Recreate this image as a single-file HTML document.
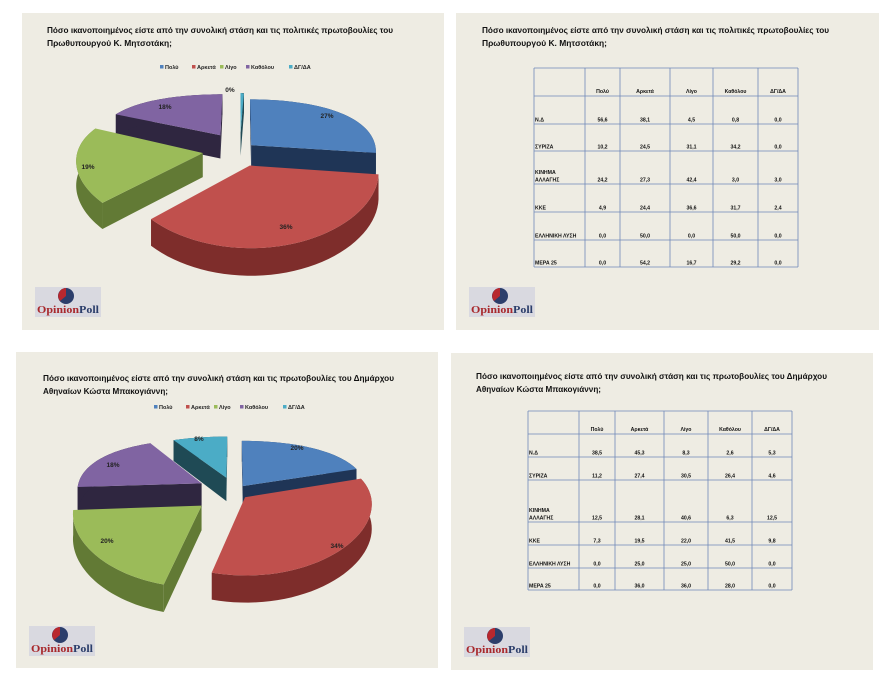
<!DOCTYPE html>
<html><head><meta charset="utf-8"><style>
html,body{margin:0;padding:0;background:#fff;}
svg{display:block;}
text{font-family:"Liberation Sans","DejaVu Sans",sans-serif;}
.t{font-size:8.5px;font-weight:bold;fill:#111;}
.lg{font-size:5.5px;font-weight:bold;fill:#222;}
.tb{font-size:5.2px;font-weight:bold;fill:#111;}
.pc{font-size:6.5px;font-weight:bold;fill:#222;}
</style></head><body>
<svg id="s" width="880" height="676" viewBox="0 0 880 676" xmlns="http://www.w3.org/2000/svg">
<rect x="22" y="13" width="422" height="317" fill="#eeece3"/>
<rect x="456" y="13" width="423" height="317" fill="#eeece3"/>
<rect x="16" y="352" width="422" height="316" fill="#eeece3"/>
<rect x="451" y="353" width="422" height="317" fill="#eeece3"/>

<text class="t" x="47" y="33" textLength="346" lengthAdjust="spacingAndGlyphs">Πόσο ικανοποιημένος είστε από την συνολική στάση και τις πολιτικές πρωτοβουλίες του</text>
<text class="t" x="47" y="46" textLength="125" lengthAdjust="spacingAndGlyphs">Πρωθυπουργού  Κ. Μητσοτάκη;</text>
<text class="t" x="482" y="33" textLength="347" lengthAdjust="spacingAndGlyphs">Πόσο ικανοποιημένος είστε από την συνολική στάση και τις πολιτικές πρωτοβουλίες του</text>
<text class="t" x="482" y="46" textLength="125" lengthAdjust="spacingAndGlyphs">Πρωθυπουργού  Κ. Μητσοτάκη;</text>
<text class="t" x="43" y="381" textLength="351" lengthAdjust="spacingAndGlyphs">Πόσο ικανοποιημένος είστε από την συνολική στάση και τις πρωτοβουλίες του Δημάρχου</text>
<text class="t" x="43" y="394" textLength="125" lengthAdjust="spacingAndGlyphs">Αθηναίων Κώστα Μπακογιάννη;</text>
<text class="t" x="476" y="379" textLength="351" lengthAdjust="spacingAndGlyphs">Πόσο ικανοποιημένος είστε από την συνολική στάση και τις πρωτοβουλίες του Δημάρχου</text>
<text class="t" x="476" y="392" textLength="125" lengthAdjust="spacingAndGlyphs">Αθηναίων Κώστα Μπακογιάννη;</text>

<g id="legs"></g>
<g id="pies"></g>
<g id="tabs"></g>
<g id="logos"></g>
</svg>
<script>
var NS="http://www.w3.org/2000/svg";
function el(par,tag,at,txt){var e=document.createElementNS(NS,tag);for(var k in at)e.setAttribute(k,at[k]);if(txt!=null)e.textContent=txt;par.appendChild(e);return e;}
var cols=["#4f81bd","#c0504d","#9bbb59","#8064a2","#4bacc6"];
var side=["#1f3556","#7e2d2b","#627a35","#2f2640","#1f4a55"];
function legend(x,y){var g=document.getElementById('legs');var names=["Πολύ","Αρκετά","Λίγο","Καθόλου","ΔΓ/ΔΑ"];var xs=[0,32,60,86,129];
for(var i=0;i<5;i++){el(g,'rect',{x:x+xs[i],y:y-4,width:3.5,height:3.5,fill:cols[i]});el(g,'text',{class:'lg',x:x+xs[i]+5,y:y},names[i]);}}
legend(160,69);legend(154,409);
function pie(P){
 var g=document.getElementById('pies');
 function map(u,v,z){var X=P.cx+P.rx*u*(1+0.1*v);var Y=P.cy+v*(P.a+P.b*v)+z*P.d*(1+0.12*v);return [X,Y];}
 var sl=[],t=0;
 for(var i=0;i<P.vals.length;i++){var a0=t,a1=t+P.vals[i]*3.6;t=a1;var m=(a0+a1)/2*Math.PI/180;
  sl.push({i:i,a0:a0*Math.PI/180,a1:a1*Math.PI/180,ox:P.e[i]*Math.sin(m),oy:-P.e[i]*Math.cos(m),mv:-Math.cos(m)});}
 sl.sort(function(p,q){return p.mv-q.mv;});
 sl.forEach(function(s){
  function pt(th,r,z){return map(s.ox+r*Math.sin(th),s.oy-r*Math.cos(th),z);}
  var n=40,top=[],bot=[];
  for(var k=0;k<=n;k++){var th=s.a0+(s.a1-s.a0)*k/n;top.push(pt(th,1,0));bot.push(pt(th,1,1));}
  var c0=pt(0,0,0),c1=pt(0,0,1);
  var sc=side[s.i];
  function face(th){var p=pt(th,1,0),q=pt(th,1,1);el(g,'polygon',{points:[c0,p,q,c1].map(String).join(' '),fill:sc});}
  if(Math.sin(s.a0)<0.01) face(s.a0);
  if(Math.sin(s.a1)>-0.01) face(s.a1);
  var w=top.concat(bot.slice().reverse());
  el(g,'polygon',{points:w.map(String).join(' '),fill:sc});
  var tp=[c0].concat(top);
  el(g,'polygon',{points:tp.map(String).join(' '),fill:cols[s.i]});
 });
 P.lab.forEach(function(l){el(g,'text',{class:'pc',x:l[0],y:l[1],'text-anchor':'middle'},l[2]);});
}
pie({cx:240,cy:150,rx:125,a:62,b:14,d:24,vals:[27,36,19,18,0.5],e:[0.12,0.25,0.3,0.3,0.3],
 lab:[[327,118,"27%"],[286,229,"36%"],[88,169,"19%"],[165,109,"18%"],[230,92,"0%"]]});
pie({cx:234,cy:492,rx:125,a:62,b:14,d:24,vals:[20,34,20,18,8],e:[0.12,0.12,0.33,0.3,0.25],
 lab:[[297,450,"20%"],[337,548,"34%"],[107,543,"20%"],[113,467,"18%"],[199,441,"8%"]]});
function table(cx,ry,data){
 var g=document.getElementById('tabs');
 for(var i=0;i<cx.length;i++)el(g,'line',{x1:cx[i],y1:ry[0],x2:cx[i],y2:ry[ry.length-1],stroke:'#6f88b8','stroke-width':0.8});
 for(var j=0;j<ry.length;j++)el(g,'line',{x1:cx[0],y1:ry[j],x2:cx[cx.length-1],y2:ry[j],stroke:'#6f88b8','stroke-width':0.8});
 var hd=["","Πολύ","Αρκετά","Λίγο","Καθόλου","ΔΓ/ΔΑ"];
 for(var c=1;c<6;c++)el(g,'text',{class:'tb',x:(cx[c]+cx[c+1])/2,y:ry[1]-3,'text-anchor':'middle'},hd[c]);
 for(var r=0;r<data.length;r++){var y=ry[r+2]-2.5;
  if(data[r][0]=="ΚΙΝΗΜΑ"){el(g,'text',{class:'tb',x:cx[0]+1,y:y-7.5},"ΚΙΝΗΜΑ");el(g,'text',{class:'tb',x:cx[0]+1,y:y},"ΑΛΛΑΓΗΣ");}
  else el(g,'text',{class:'tb',x:cx[0]+1,y:y},data[r][0]);
  for(var c=1;c<6;c++)el(g,'text',{class:'tb',x:(cx[c]+cx[c+1])/2,y:y,'text-anchor':'middle'},data[r][c]);}
}
table([534,585,620,670,713,758,798],[68,96,124,151,184,212,240,267],[
["Ν.Δ","56,6","38,1","4,5","0,8","0,0"],["ΣΥΡΙΖΑ","10,2","24,5","31,1","34,2","0,0"],["ΚΙΝΗΜΑ","24,2","27,3","42,4","3,0","3,0"],
["ΚΚΕ","4,9","24,4","36,6","31,7","2,4"],["ΕΛΛΗΝΙΚΗ ΛΥΣΗ","0,0","50,0","0,0","50,0","0,0"],["ΜΕΡΑ 25","0,0","54,2","16,7","29,2","0,0"]]);
table([528,579,615,664,708,752,792],[411,434,457,480,522,545,568,590],[
["Ν.Δ","38,5","45,3","8,3","2,6","5,3"],["ΣΥΡΙΖΑ","11,2","27,4","30,5","26,4","4,6"],["ΚΙΝΗΜΑ","12,5","28,1","40,6","6,3","12,5"],
["ΚΚΕ","7,3","19,5","22,0","41,5","9,8"],["ΕΛΛΗΝΙΚΗ ΛΥΣΗ","0,0","25,0","25,0","50,0","0,0"],["ΜΕΡΑ 25","0,0","36,0","36,0","28,0","0,0"]]);
function logo(x,y){var g=document.getElementById('logos');
 el(g,'rect',{x:x,y:y,width:66,height:30,fill:'#d9d9e0'});
 var cx=x+31,cy=y+9;
 el(g,'circle',{cx:cx,cy:cy,r:8,fill:'#2c3e6b'});
 el(g,'path',{d:'M'+cx+' '+(cy-8)+' A8 8 0 0 0 '+(cx-6)+' '+(cy+5)+' L'+cx+' '+cy+' Z',fill:'#b8282e'});
 var t=el(g,'text',{x:x+2,y:y+26,style:'font-family:"Liberation Serif",serif;font-size:11px;font-weight:bold',textLength:62,lengthAdjust:'spacingAndGlyphs'});
 el(t,'tspan',{fill:'#a8282c'},"Opinion");el(t,'tspan',{fill:'#2c3e6b'},"Poll");}
logo(35,287);logo(469,287);logo(29,626);logo(464,627);
</script>
</body></html>
